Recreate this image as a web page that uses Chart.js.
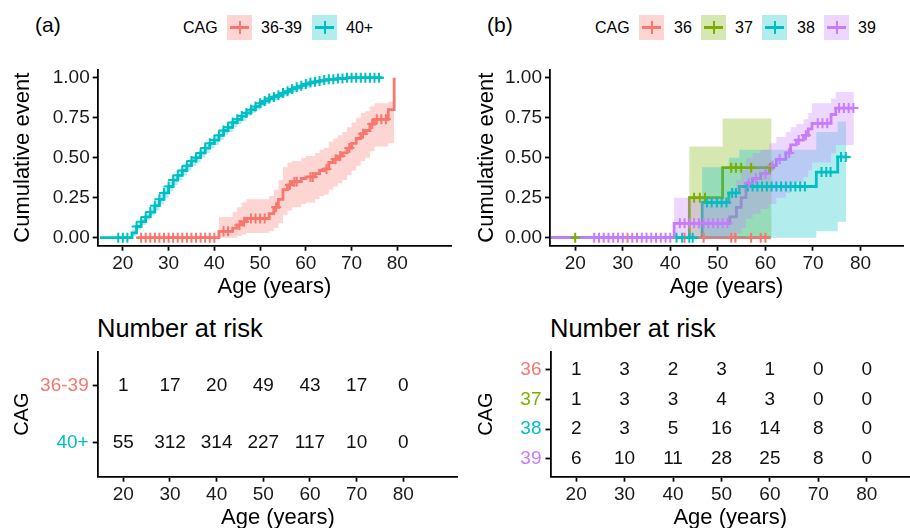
<!DOCTYPE html>
<html>
<head>
<meta charset="utf-8">
<script src="https://cdn.jsdelivr.net/npm/chart.js@4"></script>
<style>
html, body { margin: 0; padding: 0; background: #fff; }
body { width: 910px; height: 528px; position: relative; overflow: hidden;
       font-family: "Liberation Sans", Arial, Helvetica, sans-serif; color: #000; }
canvas { position: absolute; }
.txt { position: absolute; white-space: nowrap; line-height: 30px; height: 30px; }
.key { position: absolute; width: 25px; height: 25px; }
.key .h { position: absolute; left: 3px; width: 19px; top: 11px; height: 3px; }
.key .v { position: absolute; left: 11.5px; width: 2px; top: 6px; height: 13px; }
</style>
</head>
<body>

<div class="txt" style="left:35px; top:10px; font-size:21px;">(a)</div>
<div class="txt" style="left:183px; top:13px; font-size:16px;">CAG</div>
<div class="key" id="keyA1" style="left:227px; top:15px;"><div class="h"></div><div class="v"></div></div>
<div class="txt" style="left:261px; top:13px; font-size:16px;">36-39</div>
<div class="key" id="keyA2" style="left:312px; top:15px;"><div class="h"></div><div class="v"></div></div>
<div class="txt" style="left:346px; top:13px; font-size:16px;">40+</div>

<div class="txt" style="left:487px; top:10px; font-size:21px;">(b)</div>
<div class="txt" style="left:595px; top:13px; font-size:16px;">CAG</div>
<div class="key" id="keyB36" style="left:639px; top:15px;"><div class="h"></div><div class="v"></div></div>
<div class="txt" style="left:674px; top:13px; font-size:16px;">36</div>
<div class="key" id="keyB37" style="left:701px; top:15px;"><div class="h"></div><div class="v"></div></div>
<div class="txt" style="left:735px; top:13px; font-size:16px;">37</div>
<div class="key" id="keyB38" style="left:762px; top:15px;"><div class="h"></div><div class="v"></div></div>
<div class="txt" style="left:797px; top:13px; font-size:16px;">38</div>
<div class="key" id="keyB39" style="left:824px; top:15px;"><div class="h"></div><div class="v"></div></div>
<div class="txt" style="left:858px; top:13px; font-size:16px;">39</div>

<div class="txt" style="left:97px; top:313px; font-size:25.5px;">Number at risk</div>
<div class="txt" style="left:550px; top:313px; font-size:25.5px;">Number at risk</div>

<canvas id="kmA" width="458" height="300" style="left:0; top:0;"></canvas>
<canvas id="kmB" width="455" height="300" style="left:455px; top:0;"></canvas>
<canvas id="riskA" width="458" height="240" style="left:0; top:300px;"></canvas>
<canvas id="riskB" width="455" height="240" style="left:455px; top:300px;"></canvas>

<script>
// ---- data ----
const ageTicks = [20, 30, 40, 50, 60, 70, 80];
const cumTicks = [0, 0.25, 0.5, 0.75, 1];

// (a) CAG 36-39
const a1Time = [23, 41, 44, 45, 46, 47, 52, 53, 54, 55, 56, 57, 59, 60, 62, 63, 64, 65, 66, 67, 68, 69, 70, 71, 72, 73, 74, 75, 78, 79.3];
const a1Est  = [0, .04, .06, .08, .10, .12, .15, .19, .24, .30, .33, .35, .37, .38, .40, .42, .43, .47, .49, .51, .53, .56, .59, .62, .65, .67, .71, .74, .80, 1];
const a1Lo   = [0, 0, 0, .01, .02, .03, .04, .06, .09, .14, .17, .19, .21, .22, .24, .26, .27, .30, .32, .34, .36, .39, .42, .45, .48, .50, .54, .57, .59, .59];
const a1Hi   = [0, .13, .16, .19, .22, .24, .26, .30, .36, .44, .47, .48, .50, .51, .53, .55, .56, .60, .62, .64, .66, .69, .72, .75, .78, .79, .82, .84, .85, .85];
const a1Cens = [24, 25, 26, 27, 28, 29, 30, 31, 32, 33, 34, 35, 36, 37, 38, 39, 40, 42, 43, 45.5, 46.5, 48, 49, 50, 51,
                53.5, 56.5, 57.5, 58, 61, 61.5, 64.5, 66.5, 67.5, 69.5, 72.5, 74.5, 75.5, 76.5, 77.5];

// (a) CAG 40+
const a2Time = [15, 22, 23, 24, 25, 26, 27, 28, 29, 30, 31, 32, 33, 34, 35, 36, 37, 38, 39, 40, 41, 42, 43, 44, 45, 46,
                47, 48, 49, 50, 51, 52, 53, 54, 55, 56, 57, 58, 59, 60, 61, 62, 63, 64, 65, 67, 69, 76.8];
const a2Est  = [0, .03, .07, .10, .13, .16, .20, .24, .28, .32, .36, .39, .42, .45, .48, .50, .53, .56, .59, .61, .64, .67, .69, .72, .74, .76,
                .78, .80, .82, .84, .855, .87, .88, .89, .905, .915, .93, .94, .95, .96, .97, .975, .98, .985, .99, .995, 1, 1];
const a2Lo   = [0, .01, .05, .08, .11, .14, .17, .21, .25, .29, .33, .36, .39, .42, .45, .47, .50, .53, .56, .58, .61, .64, .66, .69, .71, .73,
                .76, .78, .80, .82, .835, .85, .86, .87, .885, .895, .91, .92, .93, .94, .955, .96, .965, .97, .98, .985, .99, .99];
const a2Hi   = [0, .05, .09, .12, .15, .19, .23, .27, .31, .35, .39, .42, .45, .48, .51, .53, .56, .59, .62, .64, .67, .70, .72, .75, .77, .79,
                .80, .82, .84, .86, .875, .89, .90, .91, .925, .935, .95, .955, .965, .975, .985, .99, .99, .995, 1, 1, 1, 1];
const a2Cens = [19, 20, 21, 23, 24, 25, 26, 27, 28, 29, 30, 31, 32, 33, 34, 35, 36, 37, 38, 39, 40, 41, 42, 43, 44, 45, 46, 47, 48, 49,
                50, 51, 52, 53, 54, 55, 56, 57, 58, 59, 60, 61, 62, 63, 64, 65, 66, 67, 68, 69, 70, 71, 72, 73, 74, 75, 76];

// (b) CAG 36
const b36Time = [15, 61.1];
const b36Est  = [0, 0];
const b36Lo   = [0, 0];
const b36Hi   = [0, 0];
const b36Cens = [31, 43, 47, 52.8, 53.7, 57, 59, 60];

// (b) CAG 37
const b37Time = [15, 44, 51, 61.3];
const b37Est  = [0, .25, .4375, .4375];
const b37Lo   = [0, 0, 0, 0];
const b37Hi   = [0, .57, .745, .745];
const b37Cens = [20, 45, 46.2, 47.3, 52.8, 53.8, 54.9, 57, 61];

// (b) CAG 38
const b38Time = [15, 46.7, 52.3, 54.5, 70.7, 75.2, 77];
const b38Est  = [0, .22, .28, .32, .41, .505, .505];
const b38Lo   = [0, 0, 0, 0, .04, .10, .10];
const b38Hi   = [0, .44, .50, .55, .66, .725, .725];
const b38Cens = [41.3, 42.5, 44, 44.7, 47.7, 48.7, 49.8, 50.8, 51.8, 53, 53.8, 56.3, 57.3, 58.3, 59.3, 60.3, 61.3, 62.3,
                 63.3, 64.3, 65.3, 66.3, 67.3, 68.3, 71.8, 72.8, 73.7, 75.9, 76.9];

// (b) CAG 39
const b39Time = [15, 40.8, 52.5, 53.9, 54.9, 55.9, 57.3, 59, 60.8, 62.3, 64.3, 65.3, 66.5, 68, 69, 69.8, 73.8, 74.8, 78.6];
const b39Est  = [0, .09, .13, .19, .25, .34, .37, .40, .45, .49, .53, .58, .61, .64, .68, .715, .77, .81, .81];
const b39Lo   = [0, 0, 0, .03, .06, .12, .15, .18, .21, .25, .28, .32, .35, .38, .42, .47, .53, .58, .58];
const b39Hi   = [0, .25, .30, .36, .42, .50, .53, .55, .59, .63, .66, .69, .71, .74, .78, .84, .87, .91, .91];
const b39Cens = [24, 25, 26, 27, 28, 29, 30, 32, 33, 34, 35, 36, 37, 38, 39, 40, 42, 43, 44, 45, 46, 47, 48, 49, 50, 51, 52,
                 56.5, 58, 60, 61.5, 63, 65, 67, 68.5, 71, 72, 73, 75.5, 76.5, 77.5, 78.5];

// number at risk
const riskAges = [20, 30, 40, 50, 60, 70, 80];
const aRows = ['36-39', '40+'];
const aRisk3639 = [1, 17, 20, 49, 43, 17, 0];
const aRisk40 = [55, 312, 314, 227, 117, 10, 0];
const bRows = ['36', '37', '38', '39'];
const bRisk36 = [1, 3, 2, 3, 1, 0, 0];
const bRisk37 = [1, 3, 3, 4, 3, 0, 0];
const bRisk38 = [2, 3, 5, 16, 14, 8, 0];
const bRisk39 = [6, 10, 11, 28, 25, 8, 0];

// ---- colours ----
const RED = '#F8766D', GREEN = '#7CAE00', TEAL = '#00BFC4', PURPLE = '#C77CFF';
function alpha(hex, a) {
  const n = parseInt(hex.slice(1), 16);
  return `rgba(${n >> 16}, ${(n >> 8) & 255}, ${n & 255}, ${a})`;
}

function paintKey(id, col) {
  const k = document.getElementById(id);
  k.style.background = alpha(col, 0.3);
  k.querySelector('.h').style.background = col;
  k.querySelector('.v').style.background = col;
}
paintKey('keyA1', RED); paintKey('keyA2', TEAL);
paintKey('keyB36', RED); paintKey('keyB37', GREEN); paintKey('keyB38', TEAL); paintKey('keyB39', PURPLE);

Chart.defaults.font.family = '"Liberation Sans", Arial, Helvetica, sans-serif';
Chart.defaults.color = '#000';

const pts = (xs, ys) => xs.map((x, i) => ({ x: x, y: ys[i] }));
const valueAt = (times, est, t) => {
  let v = est[0];
  times.forEach((tt, i) => { if (tt <= t) v = est[i]; });
  return v;
};

function axisBase() {
  return {
    type: 'linear',
    border: { display: true, color: '#000', width: 1.8 },
    grid: { display: true, drawOnChartArea: false, drawTicks: true, tickLength: 5,
            tickColor: '#000', tickWidth: 1.8, color: '#000' },
  };
}

function xAxis(min, max, height, titlePad) {
  return Object.assign(axisBase(), {
    min: min, max: max,
    afterBuildTicks: s => { s.ticks = ageTicks.map(v => ({ value: v })); },
    afterFit: s => { s.height = height; },
    ticks: { font: { size: 19 }, color: '#1a1a1a', padding: 2, maxRotation: 0 },
    title: { display: true, text: 'Age (years)', font: { size: 22 }, color: '#000',
             padding: { top: 0, bottom: titlePad } },
  });
}

// groups listed in legend order; last one ends up on top
function kmChart(id, groups, xMin, xMax, yW, yTitlePad) {
  const lines = [], bands = [], marks = [];
  groups.slice().reverse().forEach(g => {
    lines.push({ data: pts(g.time, g.est), stepped: true, borderColor: g.color, borderWidth: 2.8,
                 pointRadius: 0, fill: false, order: 3 });
    bands.push({ lo: { data: pts(g.time, g.lo), stepped: true, borderColor: 'transparent', borderWidth: 1,
                       pointRadius: 0, fill: false, order: 2 },
                 hi: { data: pts(g.time, g.hi), stepped: true, borderColor: 'transparent', borderWidth: 1,
                       pointRadius: 0, backgroundColor: alpha(g.color, 0.3), order: 2 } });
    marks.push({ data: g.cens.map(t => ({ x: t, y: valueAt(g.time, g.est, t) })), showLine: false,
                 pointStyle: 'cross', pointRadius: 5, pointBorderWidth: 2,
                 pointBorderColor: g.color, pointBackgroundColor: g.color, order: 1 });
  });
  const datasets = [...marks];
  bands.forEach(b => {
    datasets.push(b.lo);
    b.hi.fill = { target: datasets.length - 1 };
    datasets.push(b.hi);
  });
  datasets.push(...lines);

  return new Chart(document.getElementById(id), {
    type: 'line',
    data: { datasets: datasets },
    options: {
      responsive: false, animation: false, events: [],
      layout: { padding: { top: 69.7, left: 0, right: 0, bottom: 0 } },
      plugins: { legend: { display: false }, tooltip: { enabled: false } },
      scales: {
        x: xAxis(xMin, xMax, 54.3, 0),
        y: Object.assign(axisBase(), {
          min: -0.05, max: 1.05,
          afterBuildTicks: s => { s.ticks = cumTicks.map(v => ({ value: v })); },
          afterFit: s => { s.width = yW; },
          ticks: { font: { size: 19 }, color: '#1a1a1a', padding: 3, callback: v => v.toFixed(2) },
          title: { display: true, text: 'Cumulative event', font: { size: 22 }, color: '#000',
                   padding: { top: yTitlePad, bottom: 0 } },
        }),
      },
    },
  });
}

const riskText = {
  id: 'riskText',
  afterDatasetsDraw(chart) {
    const ctx = chart.ctx;
    ctx.save();
    ctx.font = '19px "Liberation Sans", Arial, sans-serif';
    ctx.fillStyle = '#111';
    ctx.textAlign = 'center';
    ctx.textBaseline = 'middle';
    chart.data.datasets.forEach((ds, i) => {
      chart.getDatasetMeta(i).data.forEach((pt, j) => ctx.fillText(String(ds.data[j].n), pt.x, pt.y));
    });
    ctx.restore();
  }
};

function riskChart(id, rows, colors, series, xMin, xMax, yW, yTitlePad) {
  const datasets = series.map((s, i) => ({
    data: riskAges.map((a, j) => ({ x: a, y: i + 1, n: s[j] })),
    showLine: false, pointRadius: 0,
  }));
  return new Chart(document.getElementById(id), {
    type: 'line',
    data: { datasets: datasets },
    plugins: [riskText],
    options: {
      responsive: false, animation: false, events: [],
      layout: { padding: { top: 51.7, left: 0, right: 0, bottom: 0 } },
      plugins: { legend: { display: false }, tooltip: { enabled: false } },
      scales: {
        x: xAxis(xMin, xMax, 63.3, 8.5),
        y: Object.assign(axisBase(), {
          min: 0.4, max: rows.length + 0.6, reverse: true,
          afterBuildTicks: s => { s.ticks = rows.map((r, i) => ({ value: i + 1 })); },
          afterFit: s => { s.width = yW; },
          ticks: { font: { size: 19 }, padding: 4, callback: v => rows[v - 1],
                   color: c => colors[c.index] },
          title: { display: true, text: 'CAG', font: { size: 20 }, color: '#000',
                   padding: { top: yTitlePad, bottom: 0 } },
        }),
      },
    },
  });
}

kmChart('kmA', [
  { time: a1Time, est: a1Est, lo: a1Lo, hi: a1Hi, cens: a1Cens, color: RED },
  { time: a2Time, est: a2Est, lo: a2Lo, hi: a2Hi, cens: a2Cens, color: TEAL },
], 14.51, 91.72, 97.7, 9.3);

kmChart('kmB', [
  { time: b36Time, est: b36Est, lo: b36Lo, hi: b36Hi, cens: b36Cens, color: RED },
  { time: b37Time, est: b37Est, lo: b37Lo, hi: b37Hi, cens: b37Cens, color: GREEN },
  { time: b38Time, est: b38Est, lo: b38Lo, hi: b38Hi, cens: b38Cens, color: TEAL },
  { time: b39Time, est: b39Est, lo: b39Lo, hi: b39Hi, cens: b39Cens, color: PURPLE },
], 14.70, 88.93, 95, 18.5);

riskChart('riskA', aRows, [RED, TEAL], [aRisk3639, aRisk40], 14.51, 91.72, 97.7, 10.5);
riskChart('riskB', bRows, [RED, GREEN, TEAL, PURPLE], [bRisk36, bRisk37, bRisk38, bRisk39], 14.70, 88.93, 95.5, 19.7);
</script>
</body>
</html>
